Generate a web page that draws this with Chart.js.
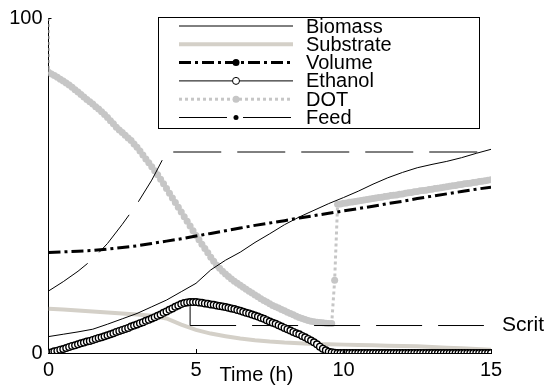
<!DOCTYPE html>
<html>
<head>
<meta charset="utf-8">
<script src="https://cdn.jsdelivr.net/npm/chart.js"></script>
<style>
  html, body { margin: 0; padding: 0; background: #fff; }
  #myChart { display: block; }
</style>
</head>
<body>
<canvas id="myChart" width="548" height="390"></canvas>
<script>
// sampling times (h)
const hours = [0, 0.5, 1, 1.5, 2, 2.5, 3, 3.5, 4, 4.5, 5, 5.5, 6, 6.5, 7, 7.5,
  8, 8.5, 9, 9.5, 10, 10.5, 11, 11.5, 12, 12.5, 13, 13.5, 14, 14.5, 15];
const fineTime = Array.from({ length: 151 }, (_, i) => i / 10);

const biomass = [4.9, 5.6, 6.3, 7.1, 8.6, 10.2, 11.8, 13.8, 15.8, 18.3, 20.8, 24.8, 27.7, 30.1, 33.0, 35.6,
  38.3, 40.6, 42.6, 44.6, 46.4, 48.3, 50.4, 52.3, 53.9, 55.3, 56.3, 57.2, 58.3, 59.6, 60.8];

const substrate = [13.2, 13.0, 12.7, 12.4, 12.1, 11.8, 11.5, 11.1, 10.3, 8.5, 6.9, 5.8, 5.0, 4.3, 3.8, 3.4,
  3.1, 2.9, 2.7, 2.6, 2.5, 2.4, 2.3, 2.2, 2.1, 2.0, 1.8, 1.6, 1.4, 1.2, 1.0];

const volume = [30.0, 30.2, 30.4, 30.6, 31.0, 31.5, 32.0, 32.7, 33.4, 34.1, 34.9, 35.7, 36.5, 37.3, 38.1, 38.8,
  39.5, 40.3, 41.0, 41.7, 42.4, 43.1, 43.8, 44.6, 45.3, 46.1, 46.8, 47.5, 48.2, 48.9, 49.5];

const ethanol = [
  0, 0.2, 0.5, 0.7, 1.0, 1.2, 1.5, 1.8, 2.1, 2.3,
  2.6, 2.9, 3.1, 3.4, 3.6, 3.9, 4.2, 4.5, 4.7, 5.0,
  5.3, 5.6, 5.9, 6.3, 6.6, 6.9, 7.2, 7.5, 7.9, 8.2,
  8.5, 8.9, 9.2, 9.6, 9.9, 10.3, 10.7, 11.1, 11.5, 12.0,
  12.4, 12.9, 13.3, 13.8, 14.2, 14.6, 14.9, 15.1, 15.2, 15.2,
  15.2, 15.1, 15.0, 14.8, 14.7, 14.5, 14.4, 14.2, 14.0, 13.9,
  13.7, 13.5, 13.3, 13.1, 12.8, 12.6, 12.3, 12.0, 11.8, 11.5,
  11.2, 10.9, 10.5, 10.2, 9.8, 9.4, 9.0, 8.7, 8.3, 7.9,
  7.5, 7.1, 6.7, 6.3, 5.9, 5.6, 5.1, 4.7, 4.2, 3.7,
  3.2, 2.6, 1.9, 1.3, 0.8, 0.4, 0.2, 0.1, 0, 0,
  0, 0, 0, 0, 0, 0, 0, 0, 0, 0,
  0, 0, 0, 0, 0, 0, 0, 0, 0, 0,
  0, 0, 0, 0, 0, 0, 0, 0, 0, 0,
  0, 0, 0, 0, 0, 0, 0, 0, 0, 0,
  0, 0, 0, 0, 0, 0, 0, 0, 0, 0,
  0
];

const dotStart = 100;
const dot = [
  83.8, 83.3, 82.8, 82.3, 81.7, 81.2, 80.6, 80.0, 79.3, 78.6,
  77.9, 77.2, 76.4, 75.7, 75.0, 74.3, 73.5, 72.8, 72.0, 71.2,
  70.3, 69.3, 68.4, 67.4, 66.6, 65.8, 65.0, 64.2, 63.4, 62.4,
  61.4, 60.3, 59.1, 57.9, 56.8, 55.6, 54.4, 53.2, 51.9, 50.5,
  49.1, 47.7, 46.3, 44.9, 43.5, 42.1, 40.7, 39.3, 37.9, 36.5,
  35.1, 33.8, 32.5, 31.2, 29.9, 28.6, 27.4, 26.2, 25.3, 24.4,
  23.6, 22.8, 22.1, 21.4, 20.8, 20.2, 19.6, 19.0, 18.4, 17.9,
  17.3, 16.8, 16.2, 15.7, 15.2, 14.7, 14.2, 13.8, 13.4, 13.0,
  12.6, 12.2, 11.8, 11.4, 11.0, 10.6, 10.3, 10.0, 9.7, 9.5,
  9.3, 9.2, 9.1, 9.0, 8.9, 8.8, 8.8, 21.7, 44.4, 44.5,
  44.7, 44.8, 45.0, 45.1, 45.2, 45.4, 45.5, 45.7, 45.8, 46.0,
  46.1, 46.3, 46.4, 46.5, 46.7, 46.8, 47.0, 47.1, 47.2, 47.4,
  47.5, 47.7, 47.8, 47.9, 48.1, 48.2, 48.4, 48.5, 48.6, 48.8,
  48.9, 49.1, 49.2, 49.3, 49.5, 49.6, 49.8, 49.9, 50.0, 50.2,
  50.3, 50.5, 50.6, 50.7, 50.9, 51.0, 51.2, 51.3, 51.4, 51.6,
  51.7
];

const feedTime = [0, 0.5, 1, 1.5, 2, 2.5, 3, 3.5, 4, 15];
const feed = [18.5, 21.3, 24.4, 28.0, 32.7, 38.4, 44.5, 51.6, 60, 60];

// critical substrate level, dropped from the ethanol peak
const scritTime = [4.8, 4.8, 14.76];
const scrit = [15.2, 8.2, 8.2];

const xTicks = [0, 5, 10, 15];
const yTicks = [0, 100];

const FONT = '"Liberation Sans", Arial, sans-serif';
Chart.defaults.font.family = FONT;
Chart.defaults.font.size = 20;
Chart.defaults.color = '#000';

const toPoints = (xs, ys) => xs.map((x, i) => ({ x: x, y: ys[i] }));

// legend, axis ticks and free labels
const extras = {
  id: 'extras',
  afterDatasetsDraw(chart) {
    const c = chart.ctx;
    const xs = chart.scales.x;
    const ys = chart.scales.y;
    const area = chart.chartArea;
    c.save();

    // tick marks point inwards
    c.strokeStyle = '#000';
    c.lineWidth = 1;
    c.setLineDash([]);
    xTicks.forEach(v => {
      const px = Math.round(xs.getPixelForValue(v)) + 0.5;
      c.beginPath();
      c.moveTo(px, area.bottom + 1);
      c.lineTo(px, area.bottom - 4);
      c.stroke();
    });
    yTicks.forEach(v => {
      const py = Math.round(ys.getPixelForValue(v)) + 0.5;
      c.beginPath();
      c.moveTo(area.left, py);
      c.lineTo(area.left + 3, py);
      c.stroke();
    });

    c.fillStyle = '#000';
    c.textBaseline = 'middle';
    c.font = '20px ' + FONT;
    c.textAlign = 'center';
    c.fillText('Time (h)', xs.getPixelForValue(7.05), 375);

    c.textAlign = 'left';
    c.font = '21px ' + FONT;
    c.fillText('Scrit', area.right + 11, ys.getPixelForValue(scrit[2]));

    // legend box
    c.fillStyle = '#fff';
    c.fillRect(158.5, 17.5, 321, 111);
    c.strokeRect(158.5, 17.5, 321, 111);

    c.font = '20px ' + FONT;
    chart.data.datasets.forEach((ds, i) => {
      if (!ds.legendMarker) return;
      const y = 26 + i * 18.3;
      c.strokeStyle = ds.borderColor;
      c.lineWidth = ds.borderWidth;
      c.setLineDash(ds.borderDash || []);
      c.beginPath();
      c.moveTo(179, y);
      c.lineTo(293, y);
      c.stroke();
      c.setLineDash([]);
      const m = ds.legendMarker;
      if (m.radius) {
        c.beginPath();
        c.arc(236, y, m.radius, 0, Math.PI * 2);
        c.fillStyle = m.fill;
        c.fill();
        if (m.stroke) {
          c.lineWidth = 1;
          c.strokeStyle = m.stroke;
          c.stroke();
        }
      }
      c.fillStyle = '#000';
      c.fillText(ds.label, 306, y + 1);
    });
    c.restore();
  }
};

const ctx = document.getElementById('myChart');

new Chart(ctx, {
  type: 'line',
  data: {
    datasets: [{
      label: 'Biomass',
      data: toPoints(hours, biomass),
      borderColor: '#000',
      borderWidth: 1,
      pointRadius: 0,
      order: 2,
      legendMarker: {}
    }, {
      label: 'Substrate',
      data: toPoints(hours, substrate),
      borderColor: '#d4d0c8',
      borderWidth: 4,
      pointRadius: 0,
      order: 4,
      legendMarker: {}
    }, {
      label: 'Volume',
      data: toPoints(hours, volume),
      borderColor: '#000',
      borderWidth: 3,
      borderDash: [12, 4, 3, 4],
      pointRadius: 0,
      order: 0,
      legendMarker: { radius: 3.5, fill: '#000' }
    }, {
      label: 'Ethanol',
      data: toPoints(fineTime, ethanol),
      borderColor: '#000',
      borderWidth: 1,
      pointRadius: 3.3,
      pointBorderWidth: 1.4,
      pointBorderColor: '#000',
      pointBackgroundColor: '#fff',
      order: 1,
      legendMarker: { radius: 3.5, fill: '#fff', stroke: '#000' }
    }, {
      label: 'DOT',
      data: [{ x: 0, y: dotStart }].concat(toPoints(fineTime, dot)),
      borderColor: '#c6c6c6',
      borderWidth: 3,
      borderDash: [3, 3],
      pointRadius: c => c.dataIndex === 0 ? 0 : 3.5,
      pointBorderWidth: 0,
      pointBackgroundColor: '#c6c6c6',
      order: 5,
      legendMarker: { radius: 3.5, fill: '#c6c6c6' }
    }, {
      label: 'Feed',
      data: toPoints(feedTime, feed),
      borderColor: '#000',
      borderWidth: 1,
      borderDash: [48, 16],
      pointRadius: 0,
      order: 2,
      legendMarker: { radius: 2.5, fill: '#000' }
    }, {
      label: 'Scrit',
      data: toPoints(scritTime, scrit),
      borderColor: '#000',
      borderWidth: 1,
      borderDash: [46, 16],
      pointRadius: 0,
      order: 3,
      segment: {
        borderDash: c => c.p0DataIndex === 0 ? [] : undefined
      }
    }]
  },
  options: {
    responsive: false,
    animation: false,
    events: [],
    layout: {
      padding: { top: 18, right: 57, left: 0, bottom: 0 }
    },
    scales: {
      x: {
        type: 'linear',
        min: 0,
        max: 15,
        afterFit: scale => { scale.height = 37; },
        afterBuildTicks: scale => { scale.ticks = xTicks.map(v => ({ value: v })); },
        grid: { display: false, drawTicks: false },
        border: { color: '#000', width: 1 },
        ticks: { padding: 5, font: { size: 20 }, maxRotation: 0 }
      },
      y: {
        min: 0,
        max: 100,
        afterFit: scale => { scale.width = 48.5; },
        afterBuildTicks: scale => { scale.ticks = yTicks.map(v => ({ value: v })); },
        grid: { display: false, drawTicks: false },
        border: { color: '#000', width: 1 },
        ticks: { padding: 6, font: { size: 20 } }
      }
    },
    plugins: {
      legend: { display: false },
      tooltip: { enabled: false }
    }
  },
  plugins: [extras]
});
</script>
</body>
</html>
